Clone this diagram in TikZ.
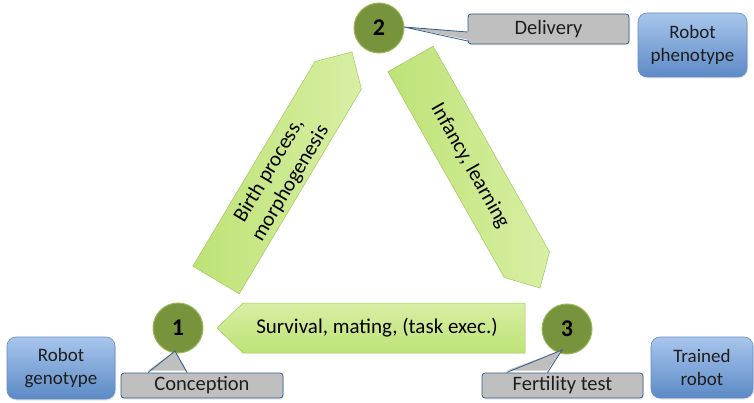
\documentclass[tikz,border=0pt]{standalone}
\usepackage{fontspec}
\setmainfont{Carlito}
\usetikzlibrary{shadows}

\definecolor{stageFill}{RGB}{119,147,60}
\definecolor{stageLine}{RGB}{155,187,89}
\definecolor{arrowLight}{RGB}{216,239,164}
\definecolor{arrowDark}{RGB}{190,226,118}
\definecolor{arrowLine}{RGB}{160,200,95}
\definecolor{tagFill}{RGB}{191,191,191}
\definecolor{tagLine}{RGB}{56,93,138}
\definecolor{robotTop}{RGB}{168,198,236}
\definecolor{robotBottom}{RGB}{92,138,198}
\definecolor{robotLine}{RGB}{100,140,195}
\definecolor{inkText}{RGB}{30,30,30}

\tikzset{
  stage/.style={circle, minimum size=50pt, inner sep=0pt, fill=stageFill,
    draw=stageLine, line width=1pt, font=\fontsize{24}{26}\selectfont\bfseries,
    text=black},
  phase/.style={draw=arrowLine, line width=0.5pt, line join=miter},
  phaselabel/.style={font=\fontsize{21}{25}\selectfont, text=black,
    align=center, inner sep=0pt},
  tag/.style={rectangle, rounded corners=3pt, fill=tagFill, draw=tagLine,
    line width=0.8pt, font=\fontsize{20.5}{24}\selectfont, text=inkText,
    inner sep=0pt,
    drop shadow={opacity=0.18, shadow xshift=1pt, shadow yshift=-1.5pt}},
  robot/.style={rectangle, rounded corners=9pt, top color=robotTop,
    bottom color=robotBottom, draw=robotLine, line width=0.6pt,
    font=\fontsize{19}{23}\selectfont, text=inkText, align=center,
    inner sep=0pt,
    drop shadow={opacity=0.18, shadow xshift=1pt, shadow yshift=-1.5pt}},
  pointer/.style={fill=tagFill},
  pointerline/.style={draw=tagLine, line width=0.8pt},
}

\begin{document}
\begin{tikzpicture}[x=1pt, y=-1pt]
\useasboundingbox (0,0) rectangle (754,403);

% life-cycle phases: block arrows with a pointed head
\draw[phase, left color=arrowDark, right color=arrowLight]
  (192.8,266.2) -- (315.0,61.4) -- (352,52) -- (361.4,89.0) -- (239.2,293.8) -- cycle;
\node[phaselabel, rotate=59.2] (birth) at (280,177) {Birth process,\\morphogenesis};

\draw[phase, left color=arrowDark, right color=arrowLight]
  (387.9,71.8) -- (433.1,46.2) -- (549.5,252.0) -- (540,288) -- (504.3,277.6) -- cycle;
\node[phaselabel, rotate=-60.5] (infancy) at (470,166) {Infancy, learning};

\draw[phase, top color=arrowLight, bottom color=arrowDark]
  (525,303) -- (243,303) -- (217,328) -- (243,353) -- (525,353) -- cycle;
\node[phaselabel] (survival) at (377,328) {Survival, mating, (task exec.)};

% stages
\node[stage] (s2) at (379,28) {2};
\node[stage] (s1) at (178,328) {1};
\node[stage] (s3) at (567,329) {3};

% callout tags
\node[tag, minimum width=161pt, minimum height=30pt] (delivery) at (548.5,29) {Delivery};
\node[tag, minimum width=162pt, minimum height=25pt] (conception) at (202,385.5) {Conception};
\node[tag, minimum width=161pt, minimum height=25pt] (fertility) at (562.5,385.5) {Fertility test};

% callout pointers
\coordinate (dTip) at (404,27);
\fill[pointer] (dTip) -- ([yshift=-11pt,xshift=2pt]delivery.west) -- ([yshift=-3pt,xshift=2pt]delivery.west) -- cycle;
\draw[pointerline] ([yshift=-12pt]delivery.west) -- (dTip) -- ([yshift=-3pt]delivery.west);

\coordinate (cTip) at (175,351);
\fill[pointer] (cTip) -- ([xshift=-54pt,yshift=2pt]conception.north) -- ([xshift=-15pt,yshift=2pt]conception.north) -- cycle;
\draw[pointerline] ([xshift=-54pt]conception.north) -- (cTip) -- ([xshift=-15pt]conception.north);

\coordinate (fTip) at (562,350);
\fill[pointer] (fTip) -- ([xshift=-56pt,yshift=2pt]fertility.north) -- ([xshift=-15pt,yshift=2pt]fertility.north) -- cycle;
\draw[pointerline] ([xshift=-56pt]fertility.north) -- (fTip) -- ([xshift=-15pt]fertility.north);

% robot states
\node[robot, minimum width=109pt, minimum height=64pt] (phenotype) at (692.5,45) {Robot\\phenotype};
\node[robot, minimum width=108pt, minimum height=62pt] (genotype) at (61,368) {Robot\\genotype};
\node[robot, minimum width=102pt, minimum height=61pt] (trained) at (702,367.5) {Trained\\robot};
\end{tikzpicture}
\end{document}
